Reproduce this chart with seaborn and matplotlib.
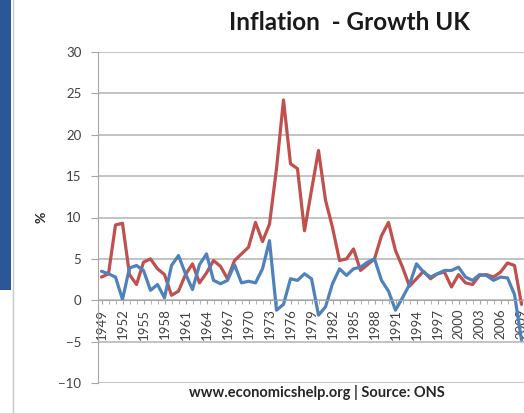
import pandas as pd
import matplotlib.pyplot as plt
import seaborn as sns
from matplotlib.patches import Rectangle
from matplotlib.lines import Line2D

# Valeurs (1949 -> 2009)
YEARS = list(range(1949, 2010))

INFLATION = [
    2.8, 3.2, 9.1, 9.3, 3.1, 1.9, 4.6, 5.0, 3.8, 3.1,
    0.6, 1.1, 3.1, 4.4, 2.1, 3.3, 4.8, 4.1, 2.6, 4.8,
    5.6, 6.4, 9.4, 7.1, 9.2, 15.9, 24.2, 16.5, 15.9, 8.4,
    13.3, 18.1, 12.1, 8.8, 4.8, 5.0, 6.2, 3.6, 4.3, 5.0,
    7.8, 9.4, 6.0, 4.0, 1.7, 2.6, 3.5, 2.6, 3.2, 3.4,
    1.6, 3.1, 2.1, 1.9, 3.0, 3.1, 2.8, 3.4, 4.5, 4.2,
    -0.5,
]

GROWTH = [
    3.5, 3.2, 2.8, 0.1, 3.9, 4.2, 3.6, 1.2, 1.9, 0.3,
    4.2, 5.4, 3.2, 1.3, 4.3, 5.6, 2.4, 2.0, 2.4, 4.3,
    2.1, 2.3, 2.1, 3.8, 7.2, -1.2, -0.5, 2.6, 2.4, 3.2,
    2.6, -1.8, -0.8, 2.0, 3.8, 3.0, 3.8, 4.0, 4.6, 5.0,
    2.4, 1.1, -1.2, 0.3, 1.9, 4.4, 3.4, 2.8, 3.2, 3.6,
    3.6, 4.0, 2.8, 2.4, 3.1, 3.0, 2.4, 2.8, 2.7, 0.7,
    -4.8,
]

SERIES = ["Inflation", "Growth"]
COULEURS = ["#C0504D", "#4F81BD"]

Y_TICKS = list(range(-10, 31, 5))
X_LABELS = list(range(1949, 2010, 3))

TITRE = "Inflation  - Growth UK"
SOURCE = "www.economicshelp.org | Source: ONS"

W, H = 524, 413


def charger_donnees():
    df = pd.DataFrame({"year": YEARS, "Inflation": INFLATION, "Growth": GROWTH})
    return df.melt(id_vars="year", var_name="series", value_name="value")


def graphe(df):
    sns.set_style("white")
    plt.rcParams['font.family'] = ['Lato', 'DejaVu Sans']

    fig = plt.figure(figsize=(W / 100, H / 100), dpi=100)
    ax = fig.add_axes([98 / W, (H - 383) / H, (W - 98) / W, (383 - 52) / H])

    sns.lineplot(
        data=df, x="year", y="value", hue="series",
        hue_order=SERIES, palette=COULEURS,
        linewidth=2.3, legend=False, ax=ax
    )

    for s in ["top", "right"]:
        ax.spines[s].set_visible(False)
    ax.spines["left"].set_color("#A6A6A6")
    ax.spines["bottom"].set_color("#A6A6A6")
    # l'axe des x passe par 0 (a faire avant de toucher aux ticks)
    ax.spines["bottom"].set_position(("data", 0))

    ax.set_xlim(1948.5, 1948.5 + (W - 98) / 7.0)
    ax.set_ylim(-10, 30)
    ax.set_yticks(Y_TICKS)
    ax.set_xticks(X_LABELS)
    ax.set_xticks(YEARS, minor=True)
    ax.set_xticklabels([str(y) for y in X_LABELS])

    ax.yaxis.grid(True, color="#BEBEBE", linewidth=1.3)
    ax.set_axisbelow(True)

    ax.tick_params(axis="y", length=5, color="#A6A6A6", pad=7,
                   labelsize=9.5, labelcolor="#404040", left=True)
    ax.tick_params(axis="x", which="both", length=3, color="#A6A6A6",
                   pad=3, labelsize=9.5, labelcolor="#404040", bottom=True,
                   labelrotation=90)
    ax.set_xlabel("")
    ax.set_ylabel("")

    fig.text(349 / W, 1 - 23 / H, TITRE, ha="center", va="center",
             fontsize=17.5, fontweight="bold", color="#1A1A1A")
    fig.text(317 / W, 1 - 392 / H, SOURCE, ha="center", va="center",
             fontsize=10.5, fontweight="bold", color="#262626")
    fig.text(41 / W, 1 - 217 / H, "%", ha="center", va="center",
             rotation=90, fontsize=10, fontweight="bold", color="#262626")

    # bandeau bleu et bordure a gauche
    fig.add_artist(Rectangle((0, 1 - 290 / H), 11 / W, 290 / H,
                             transform=fig.transFigure, color="#2B579A", lw=0))
    fig.add_artist(Line2D([12.5 / W, 12.5 / W], [0, 1],
                          transform=fig.transFigure, color="#C8C8C8", lw=1))

    fig.savefig("out.png", dpi=100)


def main():
    df = charger_donnees()
    graphe(df)


if __name__ == "__main__":
    main()
